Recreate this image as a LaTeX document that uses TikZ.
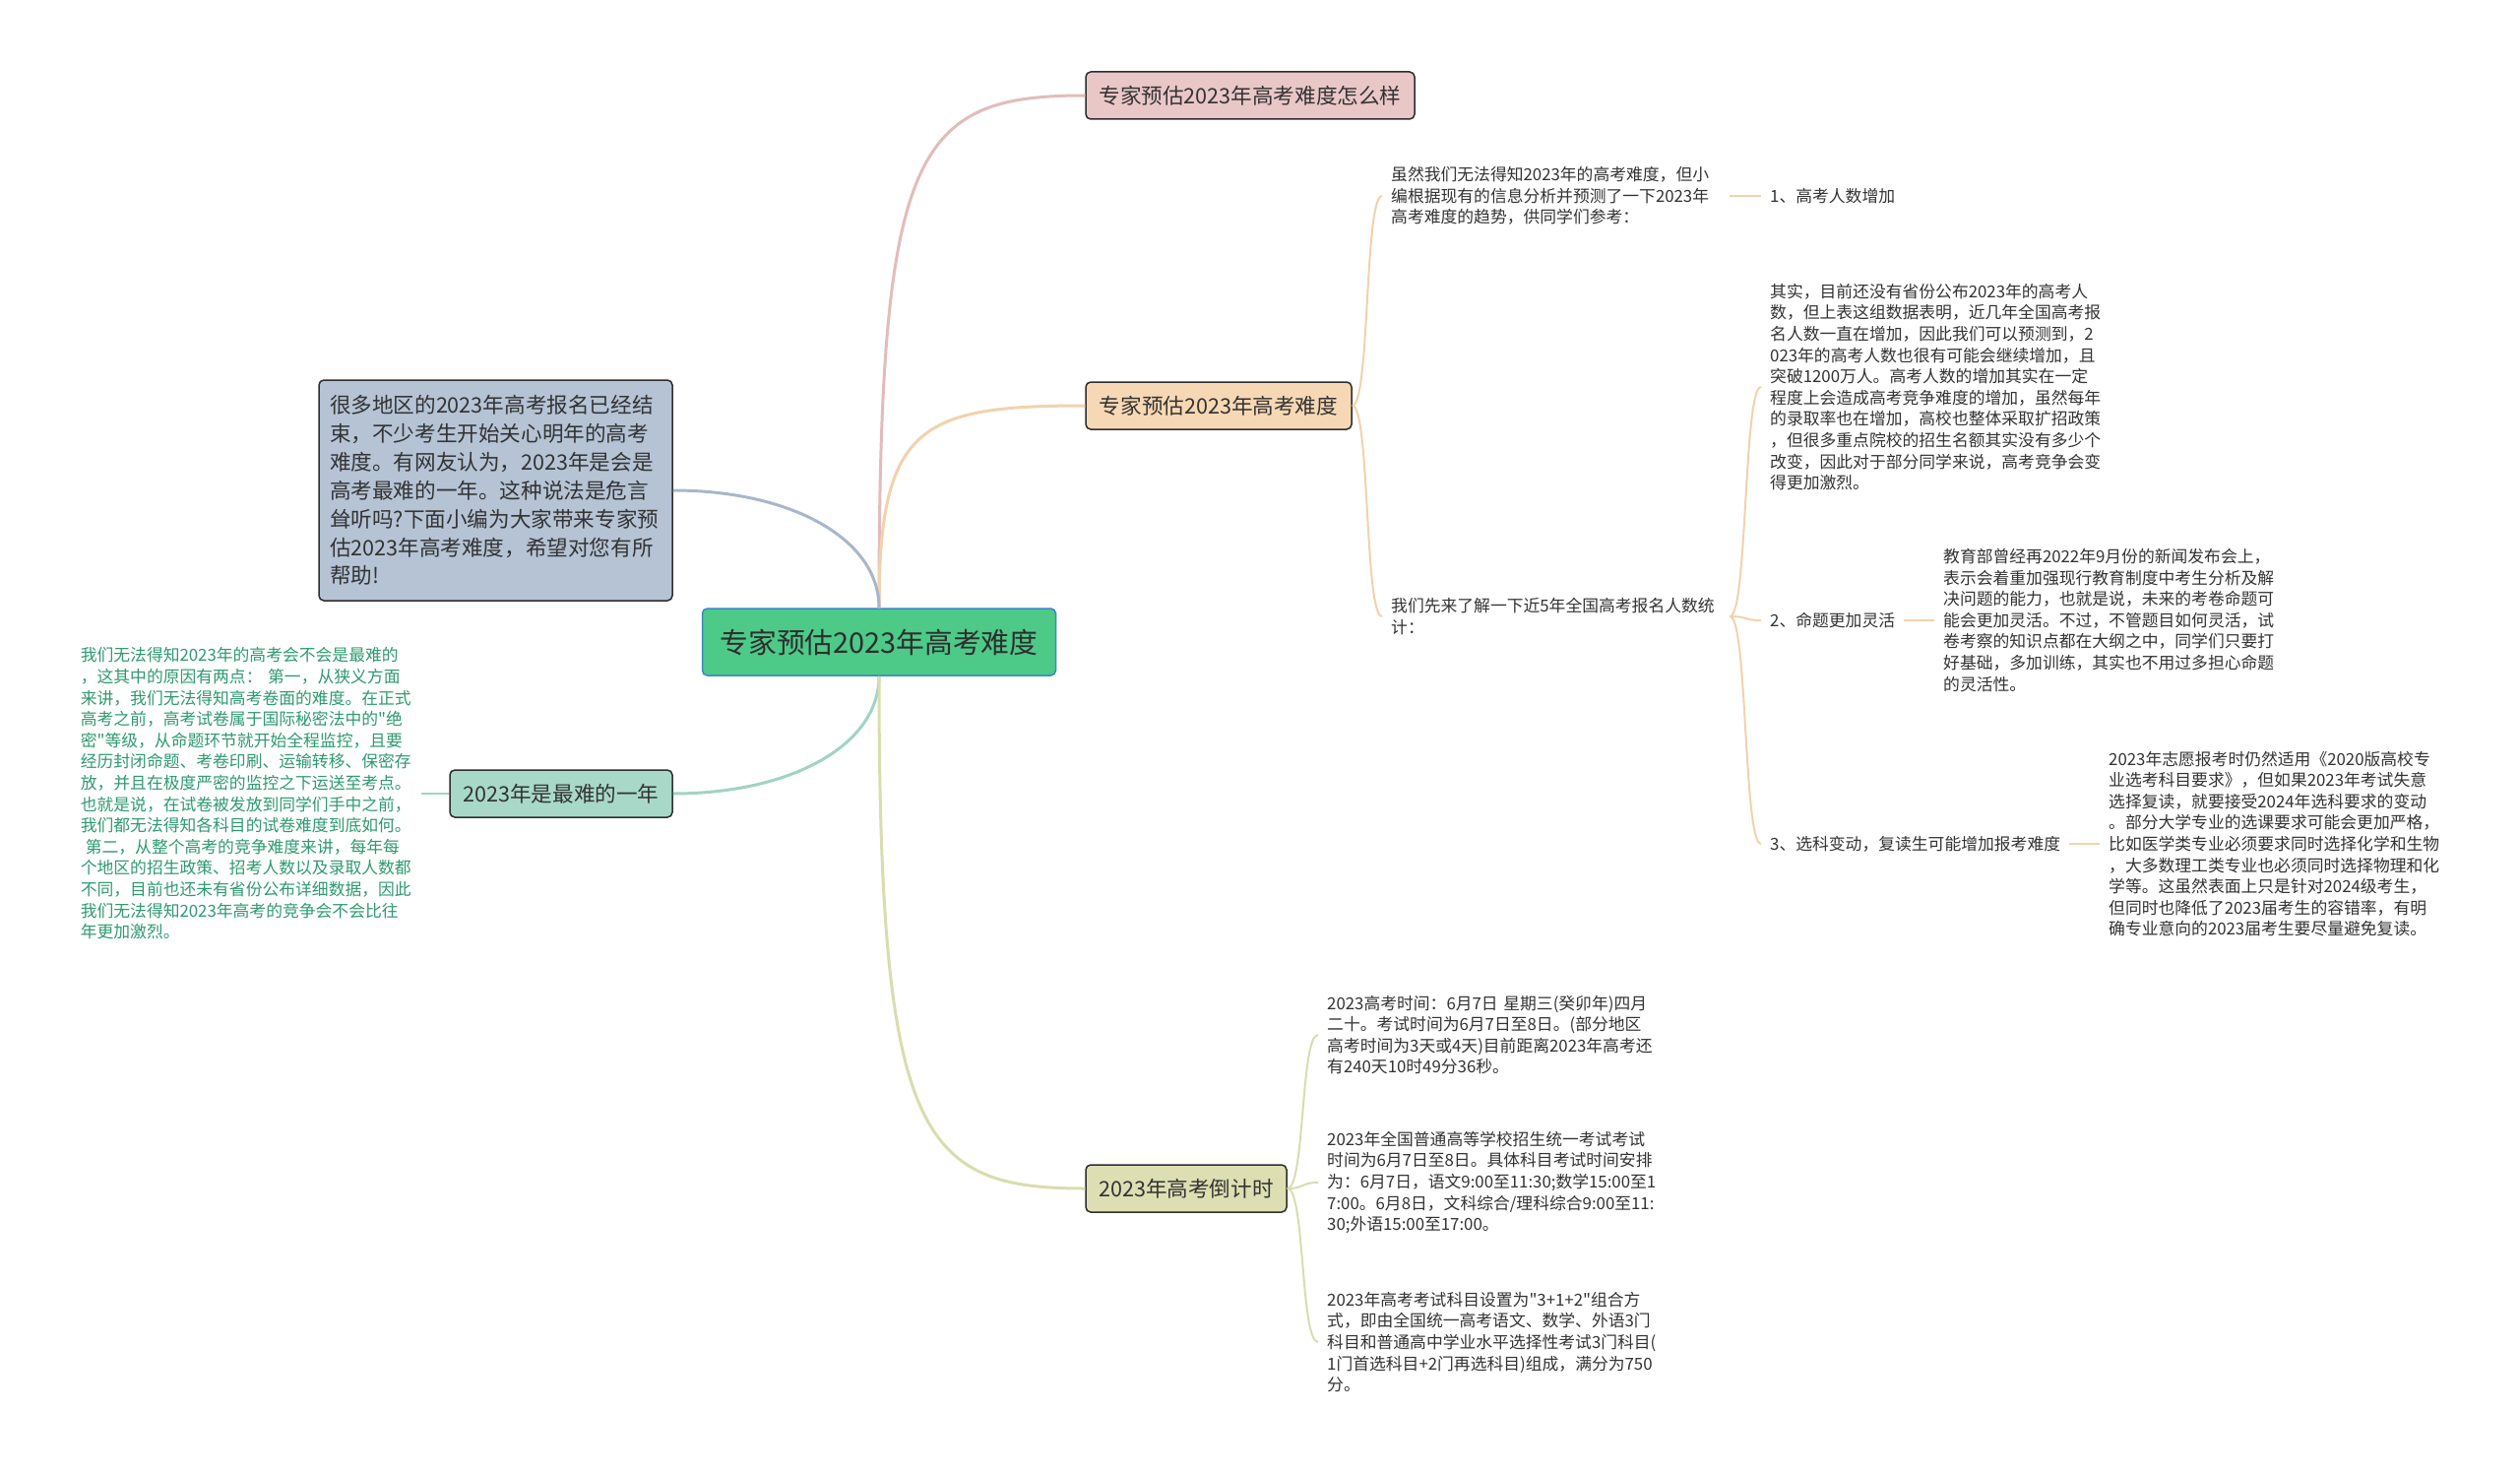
\documentclass[tikz,border=0pt]{standalone}
\usepackage{fontspec}
\setmainfont{Noto Sans CJK SC}
\usepackage{xcolor}
\usepackage{tikz}
\definecolor{NodeInk}{HTML}{2E2E2E}
\definecolor{TextInk}{HTML}{333333}
\definecolor{RootGreen}{HTML}{4DC988}
\definecolor{RootBlue}{HTML}{3A87C8}
\definecolor{PinkFill}{HTML}{EAC7C7}
\definecolor{PinkLine}{HTML}{E2BCBC}
\definecolor{PeachFill}{HTML}{F7D8B4}
\definecolor{PeachLine}{HTML}{F2D2AC}
\definecolor{OliveFill}{HTML}{DDDFB2}
\definecolor{OliveLine}{HTML}{D9DDAE}
\definecolor{SlateFill}{HTML}{B5C3D5}
\definecolor{SlateLine}{HTML}{A8B7CB}
\definecolor{TealFill}{HTML}{A8D9C8}
\definecolor{TealLine}{HTML}{9FD4C3}
\definecolor{WhyGreen}{HTML}{2E9A70}

\begin{document}
\begin{tikzpicture}[x=1pt,y=-1pt,
  topic/.style={draw=NodeInk,line width=1.5pt,rounded corners=5pt,minimum height=48pt,inner sep=0pt,text=TextInk,font={\fontsize{21.6}{26}\selectfont}},
  note/.style={anchor=west,align=left,inner xsep=9pt,inner ysep=3pt,text width=345pt,text=TextInk,font={\fontsize{16.8}{21.6}\selectfont}},
  item/.style={anchor=west,inner xsep=9pt,inner ysep=3pt,text=TextInk,font={\fontsize{16.8}{21.6}\selectfont}},
  limb/.style={line width=3pt},
  twig/.style={line width=2pt},
  sbend/.style={to path={.. controls +(18,0) and +(-18,0) .. (\tikztotarget)}}
]
\useasboundingbox[fill=white] (0,0) rectangle (2560,1498);

\node[draw=RootBlue,fill=RootGreen,line width=1.5pt,rounded corners=5pt,minimum width=359pt,minimum height=68pt,text=NodeInk,font={\fontsize{28.8}{34}\selectfont}] (root) at (893,652) {专家预估2023年高考难度};

\node[topic,fill=PinkFill,minimum width=334pt] (top) at (1270,97) {专家预估2023年高考难度怎么样};
\node[topic,fill=PeachFill,minimum width=270pt] (mid) at (1238,412) {专家预估2023年高考难度};
\node[topic,fill=OliveFill,minimum width=204pt] (count) at (1205,1207) {2023年高考倒计时};
\node[topic,fill=SlateFill,align=left,text width=337pt,inner xsep=11pt,minimum height=224pt,font={\fontsize{21.6}{28.9}\selectfont}] (intro) at (503.5,498) {很多地区的2023年高考报名已经结\\
束，不少考生开始关心明年的高考\\
难度。有网友认为，2023年是会是\\
高考最难的一年。这种说法是危言\\
耸听吗?下面小编为大家带来专家预\\
估2023年高考难度，希望对您有所\\
帮助!};
\node[topic,fill=TealFill,minimum width=226pt] (hard) at (570,806) {2023年是最难的一年};

\node[note,anchor=east,text width=337pt,text=WhyGreen] (why) at (428,806) {我们无法得知2023年的高考会不会是最难的\\
，这其中的原因有两点：~第一，从狭义方面\\
来讲，我们无法得知高考卷面的难度。在正式\\
高考之前，高考试卷属于国际秘密法中的\textquotedbl 绝\\
密\textquotedbl 等级，从命题环节就开始全程监控，且要\\
经历封闭命题、考卷印刷、运输转移、保密存\\
放，并且在极度严密的监控之下运送至考点。\\
也就是说，在试卷被发放到同学们手中之前，\\
我们都无法得知各科目的试卷难度到底如何。\\
\hspace*{0.3em}第二，从整个高考的竞争难度来讲，每年每\\
个地区的招生政策、招考人数以及录取人数都\\
不同，目前也还未有省份公布详细数据，因此\\
我们无法得知2023年高考的竞争会不会比往\\
年更加激烈。};

\node[note,text width=335pt] (t1) at (1404,199) {虽然我们无法得知2023年的高考难度，但小\\
编根据现有的信息分析并预测了一下2023年\\
高考难度的趋势，供同学们参考：};
\node[item] (n1) at (1789,199) {1、高考人数增加};
\node[note,text width=335pt] (t2) at (1404,626) {我们先来了解一下近5年全国高考报名人数统\\
计：};
\node[note] (p1) at (1789,393) {其实，目前还没有省份公布2023年的高考人\\
数，但上表这组数据表明，近几年全国高考报\\
名人数一直在增加，因此我们可以预测到，2\\
023年的高考人数也很有可能会继续增加，且\\
突破1200万人。高考人数的增加其实在一定\\
程度上会造成高考竞争难度的增加，虽然每年\\
的录取率也在增加，高校也整体采取扩招政策\\
，但很多重点院校的招生名额其实没有多少个\\
改变，因此对于部分同学来说，高考竞争会变\\
得更加激烈。};
\node[item] (n2) at (1789,630) {2、命题更加灵活};
\node[note] (p2) at (1965,630) {教育部曾经再2022年9月份的新闻发布会上，\\
表示会着重加强现行教育制度中考生分析及解\\
决问题的能力，也就是说，未来的考卷命题可\\
能会更加灵活。不过，不管题目如何灵活，试\\
卷考察的知识点都在大纲之中，同学们只要打\\
好基础，多加训练，其实也不用过多担心命题\\
的灵活性。};
\node[item] (n3) at (1789,857) {3、选科变动，复读生可能增加报考难度};
\node[note] (p3) at (2133,857) {2023年志愿报考时仍然适用《2020版高校专\\
业选考科目要求》，但如果2023年考试失意\\
选择复读，就要接受2024年选科要求的变动\\
。部分大学专业的选课要求可能会更加严格，\\
比如医学类专业必须要求同时选择化学和生物\\
，大多数理工类专业也必须同时选择物理和化\\
学等。这虽然表面上只是针对2024级考生，\\
但同时也降低了2023届考生的容错率，有明\\
确专业意向的2023届考生要尽量避免复读。};

\node[note] (b1) at (1339,1051) {2023高考时间：6月7日~星期三(癸卯年)四月\\
二十。考试时间为6月7日至8日。(部分地区\\
高考时间为3天或4天)目前距离2023年高考还\\
有240天10时49分36秒。};
\node[note] (b2) at (1339,1201) {2023年全国普通高等学校招生统一考试考试\\
时间为6月7日至8日。具体科目考试时间安排\\
为：6月7日，语文9:00至11:30;数学15:00至1\\
7:00。6月8日，文科综合/理科综合9:00至11:\\
30;外语15:00至17:00。};
\node[note] (b3) at (1339,1363) {2023年高考考试科目设置为\textquotedbl 3+1+2\textquotedbl 组合方\\
式，即由全国统一高考语文、数学、外语3门\\
科目和普通高中学业水平选择性考试3门科目(\\
1门首选科目+2门再选科目)组成，满分为750\\
分。};

\draw[limb,draw=PinkLine] (root.north) .. controls +(0,-468) and +(-173,0) .. (top.west);
\draw[limb,draw=PeachLine] (root.north) .. controls +(0,-185) and +(-168,0) .. (mid.west);
\draw[limb,draw=SlateLine] (root.north) .. controls +(0,-70) and +(120,0) .. (intro.east);
\draw[limb,draw=TealLine] (root.south) .. controls +(0,70) and +(120,0) .. (hard.east);
\draw[limb,draw=OliveLine] (root.south) .. controls +(0,469) and +(-168,0) .. (count.west);

\draw[twig,draw=TealLine] (hard.west) -- (why.east);

\draw[twig,draw=PeachLine] (mid.east) to[sbend] (t1.west);
\draw[twig,draw=PeachLine] (mid.east) to[sbend] (t2.west);
\draw[twig,draw=PeachLine] (t1.east) -- (n1.west);
\draw[twig,draw=PeachLine] (t2.east) to[sbend] (p1.west);
\draw[twig,draw=PeachLine] (t2.east) to[sbend] (n2.west);
\draw[twig,draw=PeachLine] (t2.east) to[sbend] (n3.west);
\draw[twig,draw=PeachLine] (n2.east) -- (p2.west);
\draw[twig,draw=PeachLine] (n3.east) -- (p3.west);

\draw[twig,draw=OliveLine] (count.east) to[sbend] (b1.west);
\draw[twig,draw=OliveLine] (count.east) to[sbend] (b2.west);
\draw[twig,draw=OliveLine] (count.east) to[sbend] (b3.west);
\end{tikzpicture}
\end{document}
